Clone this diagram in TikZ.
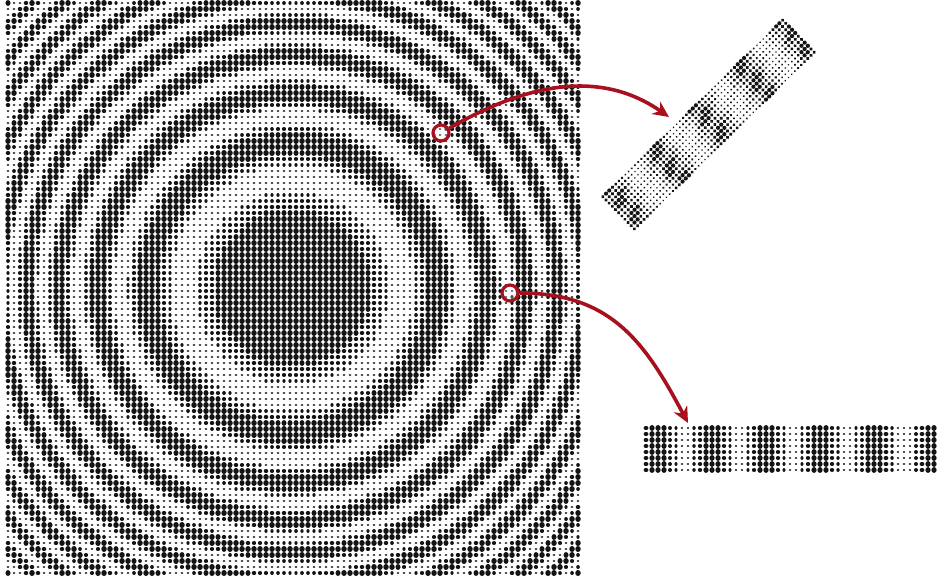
\documentclass[tikz,border=0pt]{standalone}
\usepackage{tikz}
\usetikzlibrary{positioning,arrows.meta}
\definecolor{probered}{RGB}{168,16,30}

% dots are kept in 7 lists (one per size level) and drawn as round dabs
\newcommand{\cleardots}{\foreach \k in {0,...,6}{\expandafter\gdef\csname dotlist\k\endcsname{}}}
\newcommand{\adddot}[3]{%
    \expandafter\xdef\csname dotlist#1\endcsname{\csname dotlist#1\endcsname (#2,#3) -- ++(0.01,0)}}
\newcommand{\drawdots}[2]{%
    \foreach \k in {0,...,6}{%
        \expandafter\let\expandafter\curdots\csname dotlist\k\endcsname
        \draw[dotline, line width=#1+#2*\k] \curdots;}}

\begin{document}
\begin{tikzpicture}[
            x=1pt, y=-1pt,
            dotline/.style={draw=black!92, line cap=round},
            probe/.style={
                circle,
                draw=probered,
                line width=3.2pt,
                minimum size=16pt,
                inner sep=0pt,
                fill=white,
                fill opacity=0.25
            },
            arrow/.style={-{Stealth[length=16pt,width=15pt]}, draw=probered, line width=3.6pt}
        ]
        \useasboundingbox (0,0) rectangle (938,579);

        % Ring pattern (dot size from the radial phase)
        \foreach \j in {0,...,95}{
            \cleardots
            \foreach \i in {0,...,95}{
                \pgfmathsetmacro\rr{veclen(6*\i-284,6*\j-285)/100}
                \pgfmathtruncatemacro\lev{min(6,max(0,round(3+4.2*cos(360*(0.683*\rr*\rr-0.3008*\rr)))))}
                \pgfmathsetmacro\xx{8+6*\i}
                \pgfmathsetmacro\yy{3+6*\j}
                \adddot{\lev}{\xx}{\yy}
            }
            \drawdots{2.8pt}{0.45pt}
        }

        % Radial cut (rotated strip)
        \begin{scope}[shift={(708.5,124.5)}, rotate=44.5]
            \foreach \j in {0,...,10}{
                \cleardots
                \foreach \i in {0,...,56}{
                    \pgfmathtruncatemacro\lev{min(6,max(0,round(3+2.8*cos((4.5*\i-10)/60*360)+0.8*cos((4.5*\i+9*\j)/40*360))))}
                    \pgfmathsetmacro\xx{-126+4.5*\i}
                    \pgfmathsetmacro\yy{-22.5+4.5*\j}
                    \adddot{\lev}{\xx}{\yy}
                }
                \drawdots{1.8pt}{0.4pt}
            }
        \end{scope}

        % Horizontal cut
        \foreach \j in {0,...,7}{
            \cleardots
            \foreach \i in {0,...,48}{
                \pgfmathtruncatemacro\lev{min(6,max(0,round(3.2+4*cos((6*\i-10)/55*360))))}
                \pgfmathsetmacro\xx{646+6*\i}
                \pgfmathsetmacro\yy{428+6*\j}
                \adddot{\lev}{\xx}{\yy}
            }
            \drawdots{2.6pt}{0.45pt}
        }

        % Probes and arrows
        \node[probe] (probeA) at (441,133) {};
        \node[probe] (probeB) at (510,293) {};
        \coordinate (tipA) at (669,117);
        \coordinate (tipB) at (688,423);

        \draw[arrow] (probeA) to[out=30, in=145] (tipA);
        \draw[arrow] (probeB) to[out=0, in=118, looseness=1.1] (tipB);

        \end{tikzpicture}
\end{document}
